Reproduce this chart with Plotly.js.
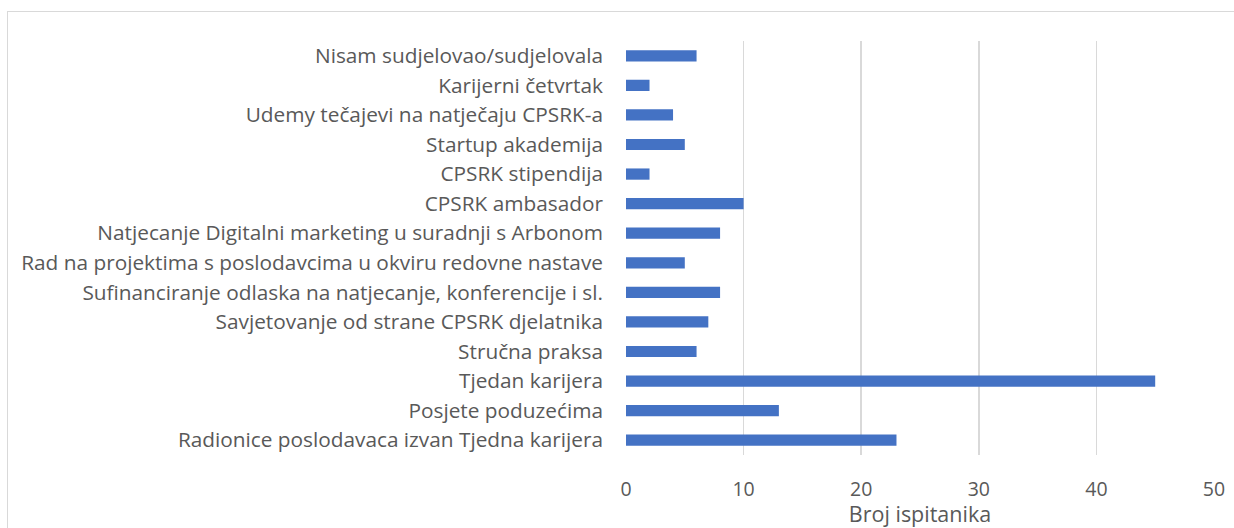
<!DOCTYPE html>
<html><head><meta charset="utf-8">
<script src="https://cdn.plot.ly/plotly-3.0.1.min.js"></script>
<style>
html,body{margin:0;padding:0;background:#fff;}
#chart{width:1234px;height:528px;}
#frame{position:absolute;left:7px;top:11px;width:1240px;height:530px;border:1.5px solid #d9d9d9;pointer-events:none;}
</style></head>
<body>
<div id="chart"></div>
<div id="frame"></div>
<script>
const categories = [
  "Nisam sudjelovao/sudjelovala",
  "Karijerni četvrtak",
  "Udemy tečajevi na natječaju CPSRK-a",
  "Startup akademija",
  "CPSRK stipendija",
  "CPSRK ambasador",
  "Natjecanje Digitalni marketing u suradnji s Arbonom",
  "Rad na projektima s poslodavcima u okviru redovne nastave",
  "Sufinanciranje odlaska na natjecanje, konferencije i sl.",
  "Savjetovanje od strane CPSRK djelatnika",
  "Stručna praksa",
  "Tjedan karijera",
  "Posjete poduzećima",
  "Radionice poslodavaca izvan Tjedna karijera"
];
const values = [6, 2, 4, 5, 2, 10, 8, 5, 8, 7, 6, 45, 13, 23];
const xTickVals = [0, 10, 20, 30, 40, 50];
const xTitle = "Broj ispitanika";

const font = "'Open Sans', sans-serif";
Plotly.newPlot("chart", [{
  type: "bar",
  orientation: "h",
  x: values,
  y: categories,
  marker: {color: "#4472C4"},
  hoverinfo: "x+y"
}], {
  width: 1234, height: 528,
  margin: {l: 626, r: 20, t: 41, b: 73},
  paper_bgcolor: "#fff", plot_bgcolor: "#fff",
  bargap: 0.62,
  showlegend: false,
  font: {family: font, color: "#595959", size: 18},
  xaxis: {
    range: [0, 50], tickvals: xTickVals, showgrid: true, gridcolor: "#d9d9d9", gridwidth: 1.5,
    zeroline: false, showline: false, ticks: "", ticklabelstandoff: 20,
    tickfont: {size: 19.5, color: "#595959", family: font},
    title: {text: xTitle, font: {size: 21.5, color: "#595959", family: font}, standoff: 6}
  },
  yaxis: {
    autorange: "reversed", type: "category", showgrid: false, zeroline: false, showline: false,
    ticks: "", ticklabelstandoff: 22,
    tickfont: {size: 20.8, color: "#595959", family: font}
  }
}, {displayModeBar: false, staticPlot: true});
</script>
</body></html>
